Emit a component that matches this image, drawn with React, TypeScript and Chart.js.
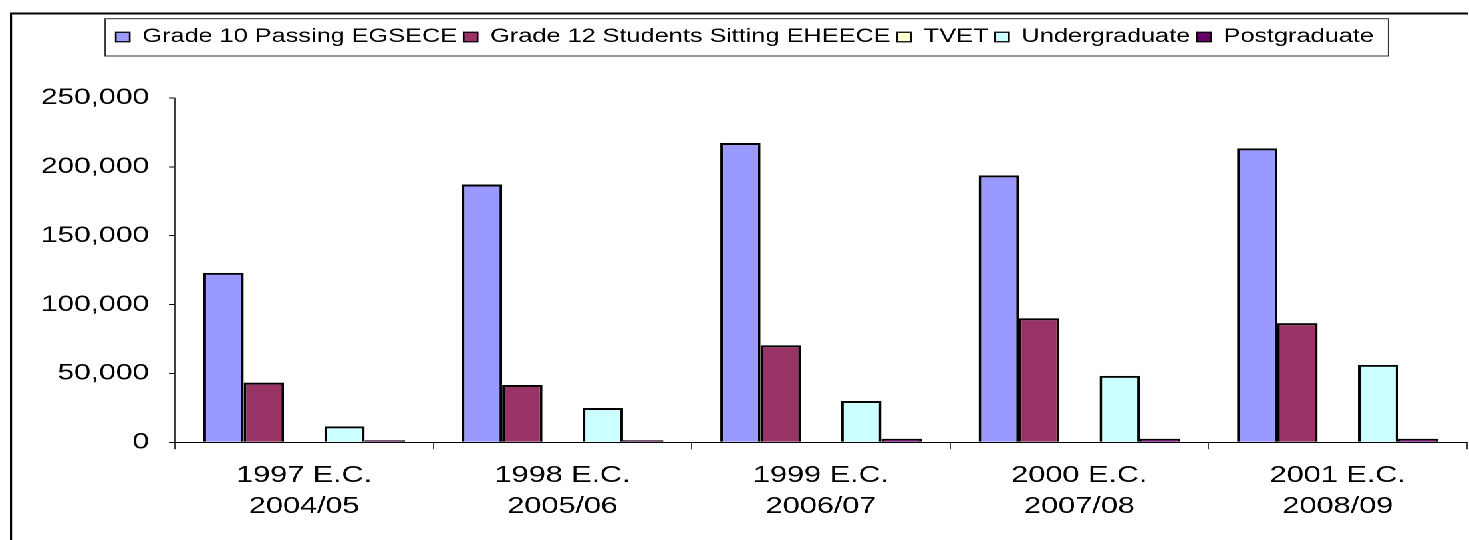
import React, { useEffect, useRef } from "react";
import { Chart, registerables } from "chart.js";

Chart.register(...registerables);

// ---- data ----
const categories: string[][] = [
  ["1997 E.C.", "2004/05"],
  ["1998 E.C.", "2005/06"],
  ["1999 E.C.", "2006/07"],
  ["2000 E.C.", "2007/08"],
  ["2001 E.C.", "2008/09"],
];
const seriesNames = [
  "Grade 10 Passing EGSECE",
  "Grade 12 Students Sitting EHEECE",
  "TVET",
  "Undergraduate",
  "Postgraduate",
];
const grade10 = [123000, 187200, 217300, 193800, 213400];
const grade12 = [43300, 41600, 70500, 90100, 86500];
const tvet = [0, 0, 0, 0, 0];
const undergraduate = [11600, 24900, 30000, 48200, 56200];
const postgraduate = [1500, 1500, 2600, 2600, 2600];
const yTickValues = [0, 50000, 100000, 150000, 200000, 250000];

const seriesColors = ["#9999FF", "#993366", "#FFFFCC", "#CCFFFF", "#660066"];

// ---- layout (the reference is horizontally stretched) ----
const SX = 1.33;
const W = 1104;
const H = 540;
const FONT = "'Liberation Sans', Arial, sans-serif";

export default function App() {
  const ref = useRef<HTMLCanvasElement>(null);

  useEffect(() => {
    if (!ref.current) return;

    const legendSpace = {
      id: "legendSpace",
      beforeInit(chart: any) {
        const lg = chart.legend;
        if (!lg) return;
        const orig = lg.fit;
        lg.fit = function () {
          orig.call(this);
          this.height = 75.5;
        };
      },
    };

    const decorations = {
      id: "decorations",
      afterDraw(chart: any) {
        const ctx = chart.ctx;
        ctx.save();
        // outer frame (left + top)
        ctx.strokeStyle = "#000";
        ctx.lineWidth = 2;
        ctx.beginPath();
        ctx.moveTo(8.3, 13.5);
        ctx.lineTo(W, 13.5);
        ctx.stroke();
        ctx.lineWidth = 1.6;
        ctx.beginPath();
        ctx.moveTo(8.3, 12.5);
        ctx.lineTo(8.3, H);
        ctx.stroke();
        // legend frame
        const hb = chart.legend?.legendHitBoxes;
        if (hb && hb.length) {
          const last = hb[hb.length - 1];
          const left = hb[0].left - 8;
          const right = last.left + last.width + 11;
          const top = 18.7;
          const bottom = 56;
          ctx.strokeStyle = "#333";
          ctx.lineWidth = 1;
          ctx.strokeRect(left, top, right - left, bottom - top);
        }
        ctx.restore();
      },
    };

    const datasets = [grade10, grade12, tvet, undergraduate, postgraduate].map(
      (d, i) => ({
        label: seriesNames[i],
        data: d,
        backgroundColor: seriesColors[i],
        borderColor: "#000",
        borderWidth: 2,
        categoryPercentage: 0.78,
        barPercentage: 1,
      })
    );

    const chart = new Chart(ref.current, {
      type: "bar",
      data: { labels: categories, datasets },
      options: {
        animation: false,
        responsive: true,
        maintainAspectRatio: false,
        devicePixelRatio: 2,
        layout: { padding: { top: 22.5, left: 17, right: 1, bottom: 0 } },
        plugins: {
          legend: {
            position: "top",
            labels: {
              boxWidth: 10.5,
              boxHeight: 9.5,
              padding: 5,
              color: "#000",
              font: { family: FONT, size: 19 },
              generateLabels: (c: any) =>
                (Chart.defaults.plugins.legend.labels as any)
                  .generateLabels(c)
                  .map((l: any) => ({ ...l, lineWidth: 1.3 })),
            },
          },
          tooltip: { enabled: false },
        },
        scales: {
          x: {
            grid: {
              drawOnChartArea: false,
              drawTicks: true,
              tickLength: 7,
              color: "#000",
              lineWidth: 0.75,
              offset: true,
            },
            border: { display: true, color: "#000", width: 1 },
            ticks: {
              color: "#000",
              padding: 11,
              maxRotation: 0,
              autoSkip: false,
              font: { family: FONT, size: 23, lineHeight: 1.35 },
            },
            afterFit: (s: any) => {
              s.height = H - 442.3;
            },
          },
          y: {
            min: 0,
            max: 250000,
            afterBuildTicks: (s: any) => {
              s.ticks = yTickValues.map((v) => ({ value: v }));
            },
            grid: {
              drawOnChartArea: false,
              drawTicks: true,
              tickLength: 4.5,
              color: "#000",
              lineWidth: 1,
            },
            border: { display: true, color: "#000", width: 0.75 },
            ticks: {
              color: "#000",
              padding: 15,
              font: { family: FONT, size: 22.5 },
              callback: (v: any) => Number(v).toLocaleString("en-US"),
            },
            afterFit: (s: any) => {
              s.width = 131.6 - 17;
            },
          },
        },
      },
      plugins: [legendSpace, decorations],
    });

    return () => chart.destroy();
  }, []);

  return (
    <div
      style={{
        position: "absolute",
        left: 0,
        top: 0,
        width: W,
        height: H,
        transform: `scaleX(${SX})`,
        transformOrigin: "0 0",
        background: "#fff",
      }}
    >
      <canvas ref={ref} />
    </div>
  );
}
